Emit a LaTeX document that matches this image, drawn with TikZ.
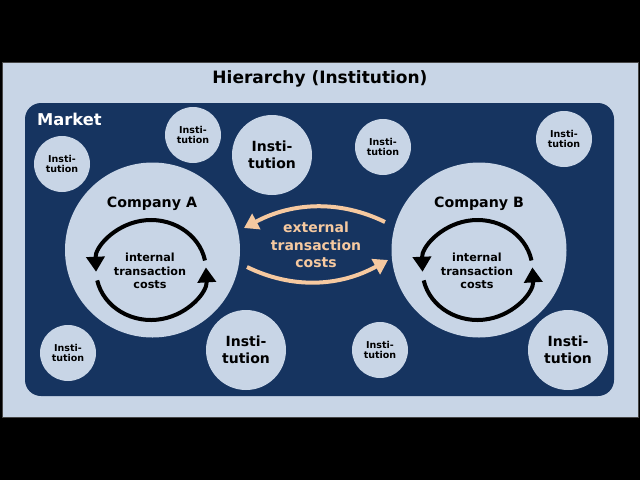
\documentclass[tikz,border=0pt]{standalone}
\usepackage{fontspec}
\setmainfont{DejaVu Sans}
\usetikzlibrary{arrows.meta}
\definecolor{lightbg}{RGB}{200,213,230}
\definecolor{navy}{RGB}{22,52,96}
\definecolor{peach}{RGB}{246,201,160}
\definecolor{framegray}{RGB}{70,70,70}
\tikzset{
  blob/.style={circle, fill=lightbg, inner sep=0pt, align=center, text=black},
  smallinst/.style={blob, minimum size=56pt, font=\bfseries\fontsize{9.5}{10.7}\selectfont},
  biginst/.style={blob, minimum size=80pt, font=\bfseries\fontsize{14}{17}\selectfont},
  company/.style={blob, minimum size=175pt},
  complabel/.style={font=\bfseries\fontsize{14.2}{17}\selectfont, text=black},
  inttext/.style={align=center, font=\bfseries\fontsize{11.2}{13.5}\selectfont, text=black},
  exttext/.style={align=center, font=\bfseries\fontsize{14}{17.5}\selectfont, text=peach},
  intarrow/.style={draw=black, line width=4pt, -{Triangle[length=15pt,width=18pt]}},
  extarrow/.style={draw=peach, line width=4pt, -{Triangle[length=14pt,width=17pt]}},
}
\begin{document}
\begin{tikzpicture}[x=1pt,y=-1pt]
% background and frames
\fill[black] (0,0) rectangle (640,480);
\draw[framegray, line width=1pt, fill=lightbg] (2,62) rectangle (638,417);
\fill[navy, rounded corners=16pt] (25,103) rectangle (614,396);
\node[font=\bfseries\fontsize{17}{20}\selectfont, text=black] (title) at (320,79) {Hierarchy (Institution)};
\node[anchor=west, inner sep=0pt, font=\bfseries\fontsize{16.3}{19}\selectfont, text=white] (market) at (37,119) {Market};
% small institutions
\node[smallinst] (s1) at (62,164) {Insti-\\tution};
\node[smallinst] (s2) at (193,135) {Insti-\\tution};
\node[smallinst] (s3) at (383,147) {Insti-\\tution};
\node[smallinst] (s4) at (564,139) {Insti-\\tution};
\node[smallinst] (s5) at (68,353) {Insti-\\tution};
\node[smallinst] (s6) at (380,350) {Insti-\\tution};
% big institutions
\node[biginst] (b1) at (272,155) {Insti-\\tution};
\node[biginst] (b2) at (246,350) {Insti-\\tution};
\node[biginst] (b3) at (568,350) {Insti-\\tution};
% companies
\node[company] (compA) at (152.5,250) {};
\node[company] (compB) at (479,250) {};
\node[complabel] (labA) at (152,204) {Company A};
\node[complabel] (labB) at (479,204) {Company B};
\node[inttext] (intA) at (150,271) {internal\\transaction\\costs};
\node[inttext] (intB) at (477,271) {internal\\transaction\\costs};
\coordinate (ca) at (151,270);
\coordinate (cb) at (477.5,270);
\draw[intarrow] ([shift={(-11:55 and 50)}]ca) arc[start angle=-11, end angle=-182, x radius=55, y radius=50];
\draw[intarrow] ([shift={(168:55 and 50)}]ca) arc[start angle=168, end angle=-3, x radius=55, y radius=50];
\draw[intarrow] ([shift={(-11:55 and 50)}]cb) arc[start angle=-11, end angle=-182, x radius=55, y radius=50];
\draw[intarrow] ([shift={(168:55 and 50)}]cb) arc[start angle=168, end angle=-3, x radius=55, y radius=50];
% external
\node[exttext] (ext) at (316,245) {external\\transaction\\costs};
\coordinate (e1s) at (385,222);
\coordinate (e1e) at (244,228);
\coordinate (e2s) at (247,267);
\coordinate (e2e) at (388,260);
\draw[extarrow] (e1s) .. controls (340,200) and (293,202) .. (e1e);
\draw[extarrow] (e2s) .. controls (292,289) and (339,287) .. (e2e);
\end{tikzpicture}
\end{document}
